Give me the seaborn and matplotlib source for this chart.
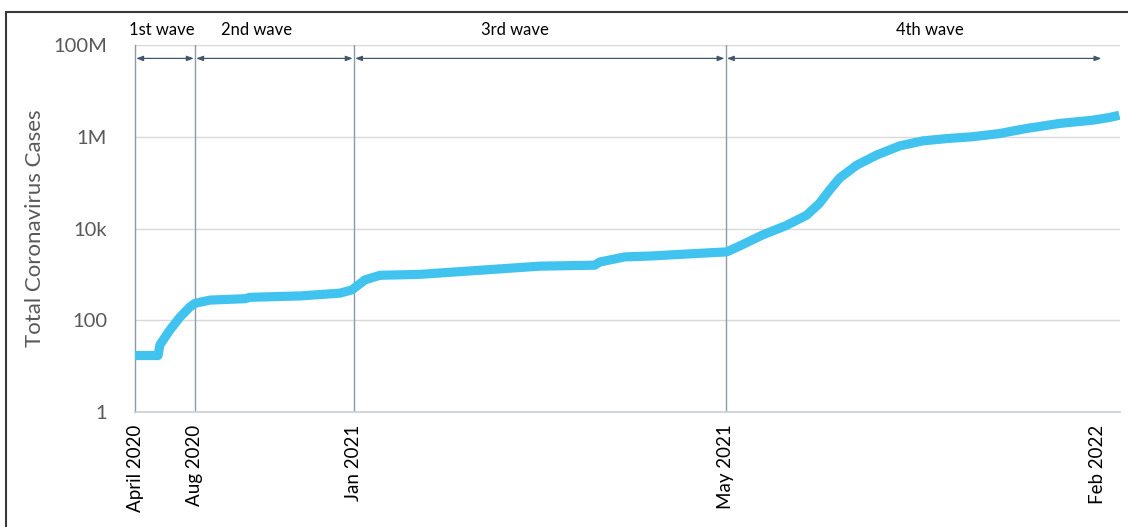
import numpy as np
import pandas as pd
import matplotlib.pyplot as plt
import seaborn as sns
from matplotlib.patches import Rectangle
from matplotlib.ticker import FixedLocator, FixedFormatter, NullLocator

# data: reporting step (x) and total cases (y)
step = [0, 7.7, 8.3, 11.7, 15, 18.3, 20, 25, 36.7, 38.3, 55, 68.3, 72.3, 76.7,
        81.7, 95, 115, 135, 153.3, 155, 163.3, 171.7, 188.3, 197.3, 201.7,
        209.3, 217.3, 224, 228.3, 231.7, 235, 240.7, 247.3, 255, 262.7,
        270.7, 279.3, 288.3, 297.3, 308.3, 319.3, 325, 328.3]
cases = [17, 17, 29, 62, 117, 195, 234, 275, 295, 316, 339, 389, 457, 759,
         955, 1000, 1230, 1510, 1585, 1860, 2400, 2510, 2880, 3090, 4170,
         7240, 11700, 19500, 35500, 69200, 126000, 240000, 398000, 631000,
         813000, 912000, 1000000, 1175000, 1514000, 1950000, 2290000,
         2630000, 2950000]

tick_pos = [0, 20, 73, 197, 321]
tick_labels = ['April 2020', 'Aug 2020', 'Jan 2021', 'May 2021', 'Feb 2022']
wave_bounds = [0, 20, 73, 197, 322.7]
wave_names = ['1st wave', '2nd wave', '3rd wave', '4th wave']
wave_text_x = [9, 40.7, 126.7, 265]

ytick_vals = [1, 100, 1e4, 1e6, 1e8]
ytick_labels = ['1', '100', '10k', '1M', '100M']

df = pd.DataFrame({'step': step, 'cases': cases})

sns.set_style('white')
plt.rcParams['font.family'] = ['Lato', 'DejaVu Sans']

fig = plt.figure(figsize=(11.28, 5.27), dpi=100)
ax = fig.add_axes([135/1128, 1 - 412/527, (1120-135)/1128, (412-45)/527])

sns.lineplot(data=df, x='step', y='cases', ax=ax, color='#41c3ef', lw=6.6,
             solid_capstyle='butt', solid_joinstyle='round', zorder=5)
ax.set_yscale('log')
ax.set_ylim(1, 1e8)
ax.set_xlim(0, 328.5)

ax.yaxis.set_major_locator(FixedLocator(ytick_vals))
ax.yaxis.set_major_formatter(FixedFormatter(ytick_labels))
ax.yaxis.set_minor_locator(NullLocator())
ax.set_xticks(tick_pos)
ax.set_xticklabels(tick_labels, rotation=90)
ax.tick_params(axis='y', length=0, pad=20, labelsize=14.5, labelcolor='#595959')
ax.tick_params(axis='x', length=0, pad=9, labelsize=13.5, labelcolor='black')
ax.grid(axis='y', color='#d9d9d9', lw=1)
ax.grid(axis='x', visible=False)
ax.set_xlabel('')
ax.set_ylabel('Total Coronavirus Cases', fontsize=16, color='#595959', labelpad=6)

for s in ['top', 'right']:
    ax.spines[s].set_visible(False)
ax.spines['left'].set_color('#8d99a8')
ax.spines['left'].set_linewidth(1)
ax.spines['bottom'].set_color('#c8d0da')
ax.spines['bottom'].set_linewidth(1.2)

for b in wave_bounds[1:4]:
    ax.axvline(b, color='#8d99a8', lw=1, zorder=2)

arrow_y = 5.1e7
for i, name in enumerate(wave_names):
    ax.annotate('', xy=(wave_bounds[i+1] - 0.4, arrow_y), xytext=(wave_bounds[i] + 0.4, arrow_y),
                arrowprops=dict(arrowstyle='<|-|>,head_length=0.4,head_width=0.15',
                                color='#44546a', lw=0.9, shrinkA=0, shrinkB=0),
                annotation_clip=False)
    ax.text(wave_text_x[i], 1.4e8, name, ha='center', va='bottom', fontsize=12,
            color='black', clip_on=False)

fig.patches.append(Rectangle((6/1128, -0.1), 1.2, 1 - 12/527 + 0.1,
                             transform=fig.transFigure, fill=False,
                             edgecolor='#3a3a3a', lw=1.5))

fig.savefig('out.png', dpi=100)
